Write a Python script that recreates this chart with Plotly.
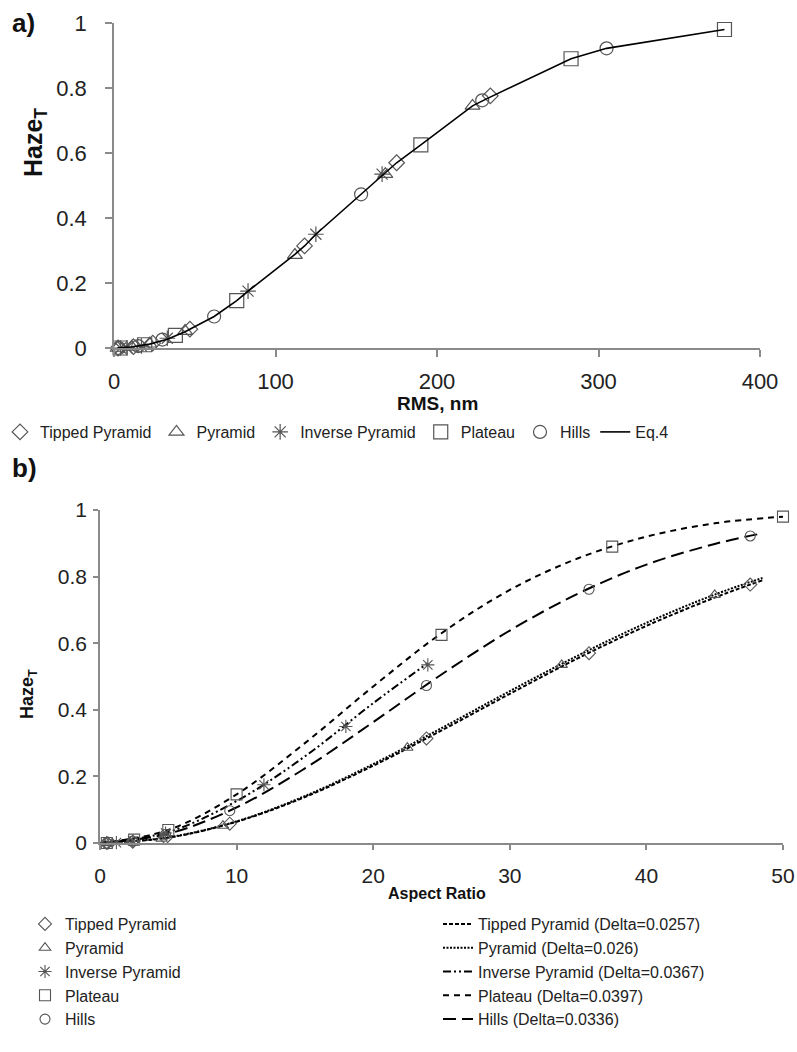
import plotly.graph_objects as go

W, H = 797, 1052
FONT = "Liberation Sans, Arial, sans-serif"
AX = "#8a8a8a"
MK = "#555555"

# ---------------- data ----------------
series_names = ["Tipped Pyramid", "Pyramid", "Inverse Pyramid", "Plateau", "Hills"]

tipped_rms = [2.5, 12, 24, 47, 118, 175, 233]
tipped_ar = [0.5, 2.4, 4.8, 9.5, 23.9, 35.8, 47.6]
tipped_haze = [0.0, 0.004, 0.015, 0.058, 0.314, 0.570, 0.776]

pyramid_rms = [2.2, 11, 22, 44, 112, 168, 222]
pyramid_ar = [0.45, 2.2, 4.5, 9.0, 22.5, 33.8, 45.0]
pyramid_haze = [0.0, 0.003, 0.013, 0.052, 0.286, 0.535, 0.745]

inverse_rms = [4, 8, 17, 33, 83, 125, 166]
inverse_ar = [0.6, 1.2, 2.4, 4.8, 12.0, 18.0, 24.0]
inverse_haze = [0.0, 0.001, 0.006, 0.030, 0.175, 0.350, 0.535]

plateau_rms = [3.8, 19, 38, 76, 190, 283, 378]
plateau_ar = [0.5, 2.5, 5.0, 10.0, 25.0, 37.5, 50.0]
plateau_haze = [0.0, 0.010, 0.039, 0.146, 0.625, 0.890, 0.980]

hills_rms = [3, 15, 30, 62, 153, 228, 305]
hills_ar = [0.5, 2.4, 4.8, 9.5, 23.9, 35.8, 47.6]
hills_haze = [0.0, 0.006, 0.026, 0.097, 0.473, 0.762, 0.922]

# Eq.4 line vertices in panel a)
eq4_rms = [2, 12, 22, 33, 44, 62, 76, 83, 112, 118, 125, 153, 168, 175, 190, 222, 230, 283, 305, 378]
eq4_haze = [0.0, 0.004, 0.012, 0.027, 0.05, 0.097, 0.146, 0.175, 0.288, 0.314, 0.35, 0.473,
            0.537, 0.57, 0.625, 0.745, 0.765, 0.89, 0.922, 0.98]

# fitted curves in panel b)
fit_ar_long = [0, 5, 10, 15, 20, 25, 30, 35, 40, 45, 48.5]
fit_tipped = [0.0, 0.016, 0.064, 0.138, 0.232, 0.338, 0.448, 0.555, 0.652, 0.737, 0.789]
fit_pyramid = [0.0, 0.017, 0.065, 0.141, 0.237, 0.345, 0.456, 0.563, 0.661, 0.746, 0.796]
fit_hills = [0.0, 0.028, 0.107, 0.224, 0.363, 0.506, 0.638, 0.749, 0.836, 0.898, 0.930]
fit_ar_plateau = [0, 5, 10, 15, 20, 25, 30, 35, 40, 45, 50]
fit_plateau = [0.0, 0.039, 0.146, 0.30, 0.47, 0.63, 0.76, 0.855, 0.92, 0.96, 0.98]
fit_ar_inverse = [0, 5, 10, 15, 20, 24]
fit_inverse = [0.0, 0.033, 0.126, 0.26, 0.42, 0.54]
fit_labels = ["Tipped Pyramid (Delta=0.0257)", "Pyramid (Delta=0.026)",
              "Inverse Pyramid (Delta=0.0367)", "Plateau (Delta=0.0397)", "Hills (Delta=0.0336)"]

# ---------------- figure ----------------
symbols = ["diamond-open", "triangle-up-open", "asterisk-open", "square-open", "circle-open"]
sizes_a = [12, 13, 13, 14, 13]
sizes_b = [10, 10, 11, 11, 10]
rms_sets = [tipped_rms, pyramid_rms, inverse_rms, plateau_rms, hills_rms]
ar_sets = [tipped_ar, pyramid_ar, inverse_ar, plateau_ar, hills_ar]
haze_sets = [tipped_haze, pyramid_haze, inverse_haze, plateau_haze, hills_haze]

fig = go.Figure()

for name, sym, sz, xs, ys in zip(series_names, symbols, sizes_a, rms_sets, haze_sets):
    fig.add_trace(go.Scatter(
        x=xs, y=ys, mode="markers", name=name, legend="legend",
        marker=dict(symbol=sym, size=sz, color=MK, line=dict(color=MK, width=1.2)),
        cliponaxis=False, xaxis="x", yaxis="y"))
fig.add_trace(go.Scatter(
    x=eq4_rms, y=eq4_haze, mode="lines", name="Eq.4", legend="legend",
    line=dict(color="black", width=1.6), xaxis="x", yaxis="y"))

# panel b) fitted curves
fit_x = [fit_ar_long, fit_ar_long, fit_ar_inverse, fit_ar_plateau, fit_ar_long]
fit_y = [fit_tipped, fit_pyramid, fit_inverse, fit_plateau, fit_hills]
dashes = ["4px,2px", "2px,1.5px", "8px,3px,2px,3px,2px,3px", "6px,5px", "13px,6px"]
for lab, xs, ys, d in zip(fit_labels, fit_x, fit_y, dashes):
    fig.add_trace(go.Scatter(
        x=xs, y=ys, mode="lines", name=lab, legend="legend3",
        line=dict(color="black", width=2, dash=d, shape="spline"),
        xaxis="x2", yaxis="y2"))

for name, sym, sz, xs, ys in zip(series_names, symbols, sizes_b, ar_sets, haze_sets):
    fig.add_trace(go.Scatter(
        x=xs, y=ys, mode="markers", name=name, legend="legend2",
        marker=dict(symbol=sym, size=sz, color=MK, line=dict(color=MK, width=1.1)),
        cliponaxis=False, xaxis="x2", yaxis="y2"))

def px(xp):
    return xp / W

def py(yp):
    return 1 - yp / H

axis_common = dict(showgrid=False, zeroline=False, showline=True, linecolor=AX, linewidth=1.5,
                   ticks="outside", tickcolor=AX, tickwidth=1.5, automargin=False)
tf_a = dict(family=FONT, size=22, color="#222")
tf_b = dict(family=FONT, size=21, color="#222")

fig.update_layout(
    width=W, height=H,
    margin=dict(l=0, r=0, t=0, b=0, autoexpand=False),
    paper_bgcolor="white", plot_bgcolor="white",
    font=dict(family=FONT, color="#222"),
    xaxis=dict(domain=[px(114), px(760)], range=[0, 400], dtick=100, anchor="y",
               ticklen=7, ticklabelstandoff=6, tickfont=tf_a, **axis_common),
    yaxis=dict(domain=[py(348), py(23)], range=[0, 1], dtick=0.2, anchor="x",
               ticklen=7, ticklabelstandoff=14, tickfont=tf_a, **axis_common),
    xaxis2=dict(domain=[px(100), px(783)], range=[0, 50], dtick=10, anchor="y2",
                ticklen=5, ticklabelstandoff=8, tickfont=tf_b, **axis_common),
    yaxis2=dict(domain=[py(843), py(510)], range=[0, 1], dtick=0.2, anchor="x2",
                ticklen=5, ticklabelstandoff=2, tickfont=tf_b, **axis_common),
    legend=dict(orientation="h", x=0.0, y=py(432), xanchor="left", yanchor="middle",
                font=dict(family=FONT, size=16, color="#222"), itemwidth=30,
                bgcolor="rgba(0,0,0,0)"),
    legend2=dict(orientation="v", x=px(25), y=py(907), xanchor="left", yanchor="top",
                 font=dict(family=FONT, size=16, color="#222"), itemwidth=30,
                 bgcolor="rgba(0,0,0,0)"),
    legend3=dict(orientation="v", x=px(438), y=py(907), xanchor="left", yanchor="top",
                 font=dict(family=FONT, size=16, color="#222"), itemwidth=30,
                 bgcolor="rgba(0,0,0,0)"),
    showlegend=True,
)

ann = [
    dict(text="<b>a)</b>", x=px(10), y=py(23), xanchor="left", yanchor="middle", size=26),
    dict(text="<b>b)</b>", x=px(10), y=py(468), xanchor="left", yanchor="middle", size=26),
    dict(text="<b>RMS, nm</b>", x=px(437), y=py(403), xanchor="center", yanchor="middle", size=19),
    dict(text="<b>Aspect Ratio</b>", x=px(437), y=py(893), xanchor="center", yanchor="middle", size=16),
]
for a in ann:
    fig.add_annotation(text=a["text"], x=a["x"], y=a["y"], xref="paper", yref="paper",
                       xanchor=a["xanchor"], yanchor=a["yanchor"], showarrow=False,
                       font=dict(family=FONT, size=a["size"], color="#111"))

fig.add_annotation(text="<b>Haze<sub>T</sub></b>", x=px(35), y=py(143), xref="paper", yref="paper",
                   textangle=-90, showarrow=False, xanchor="center", yanchor="middle",
                   font=dict(family=FONT, size=25, color="#111"))
fig.add_annotation(text="<b>Haze<sub>T</sub></b>", x=px(28), y=py(694), xref="paper", yref="paper",
                   textangle=-90, showarrow=False, xanchor="center", yanchor="middle",
                   font=dict(family=FONT, size=18, color="#111"))

fig.write_html("out.html", config={"displayModeBar": False},
               post_script="document.body.style.margin='0';document.body.style.overflow='hidden';")
